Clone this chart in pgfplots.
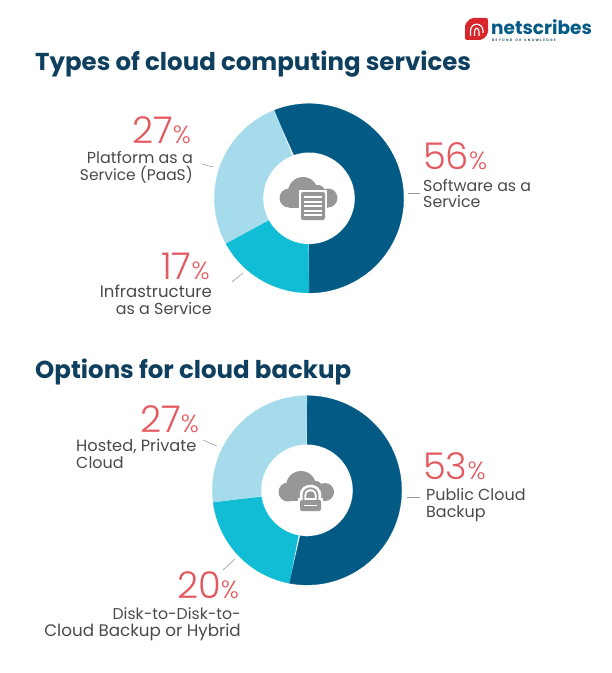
\documentclass[border=0pt]{standalone}
\usepackage{fontspec}
\usepackage{pgfplots}
\pgfplotsset{compat=1.18}
\setmainfont{Poppins}
\newfontfamily\titlefont{Poppins Bold}
\newfontfamily\lightfont{Poppins Light}
\definecolor{cdark}{HTML}{035A85}
\definecolor{clight}{HTML}{A5DBEA}
\definecolor{cteal}{HTML}{10BDD4}
\definecolor{cred}{HTML}{E4595F}
\definecolor{ctitle}{HTML}{0E3F5F}
\definecolor{ctext}{HTML}{4A4A4A}
\definecolor{cicon}{HTML}{979797}
\definecolor{cline}{HTML}{9A9A9A}
\definecolor{clogo}{HTML}{D8262C}
% ring(cx, cy, start angle, end angle, colour): one slice between radii 94.6 and 46
\newcommand{\slice}[5]{%
  \addplot[fill=#5,draw=#5,line width=0.3pt,domain=0:2,samples=161,forget plot]
   ({#1+(x<=1?94.6:46)*cos(#3+(#4-(#3))*(x<=1?x:2-x))},
    {#2-(x<=1?94.6:46)*sin(#3+(#4-(#3))*(x<=1?x:2-x))}) -- cycle;}
\newcommand{\pct}[5]{\node[anchor=#1,inner sep=0pt,text=cred] at (axis cs:#2,#3) {\lightfont\fontsize{#4}{#4}\selectfont #5\fontsize{25}{25}\selectfont\%};}
\newcommand{\lab}[5]{\node[anchor=#1,inner sep=0pt,text=ctext] at (axis cs:#2,#3) {\fontsize{#5}{#5}\selectfont #4};}
\newcommand{\docline}[1]{\fill[white] (axis cs:304,#1) rectangle (axis cs:322,#1+2.2);}
\begin{document}
\begin{tikzpicture}
\begin{axis}[
  scale only axis,width=612bp,height=673bp,
  xmin=0,xmax=612,ymin=0,ymax=673,y dir=reverse,
  hide axis,clip=false]
\path (axis cs:0,0) -- (axis cs:612,673);
% Chart 1: 56, 27, 17 per cent, counter-clockwise from 270 deg
\slice{309}{198.3}{270}{471.6}{cdark}
\slice{309}{198.3}{111.6}{208.8}{clight}
\slice{309}{198.3}{208.8}{270}{cteal}
% Chart 2: 53, 20, 27 per cent, clockwise from 90 deg
\slice{307}{490.3}{90}{-100.8}{cdark}
\slice{307}{490.3}{-100.8}{-172.8}{cteal}
\slice{307}{490.3}{-172.8}{-270}{clight}
% titles
\node[anchor=base west,inner sep=0pt,text=ctitle] at (axis cs:35,71) {\titlefont\fontsize{24.55}{24.55}\selectfont Types of cloud computing services};
\node[anchor=base west,inner sep=0pt,text=ctitle] at (axis cs:35,378) {\titlefont\fontsize{24.55}{24.55}\selectfont Options for cloud backup};
% leaders
\draw[cline,line width=0.6pt] (axis cs:408,193.3) -- (axis cs:420,193.3);
\draw[cline,line width=0.6pt] (axis cs:202,164) -- (axis cs:213,167);
\draw[cline,line width=0.6pt] (axis cs:232,282) -- (axis cs:243,273);
\draw[cline,line width=0.6pt] (axis cs:203,440) -- (axis cs:217,446);
\draw[cline,line width=0.6pt] (axis cs:407,497) -- (axis cs:420,497);
\draw[cline,line width=0.6pt] (axis cs:223,570) -- (axis cs:235,559);
% labels
\pct{base west}{132}{143}{37}{27}
\lab{base east}{193}{163}{Platform as a}{16}
\lab{base east}{193}{180}{Service (PaaS)}{15.5}
\pct{base west}{423}{169}{37}{56}
\lab{base west}{423}{191}{Software as a}{15.9}
\lab{base west}{423}{207}{Service}{15.9}
\pct{base west}{161}{279}{37}{17}
\lab{base east}{212}{297}{Infrastructure}{16.6}
\lab{base east}{212}{314}{as a Service}{16}
\pct{base west}{140}{432}{37}{27}
\lab{base west}{76}{451}{Hosted, Private}{16.3}
\lab{base west}{76}{468}{Cloud}{16}
\pct{base west}{423}{479}{37}{53}
\lab{base west}{426}{500}{Public Cloud}{16}
\lab{base west}{426}{517}{Backup}{16}
\pct{base west}{177}{598}{37}{20}
\lab{base east}{241}{619}{Disk-to-Disk-to-}{15.7}
\lab{base east}{241}{636}{Cloud Backup or Hybrid}{16.8}
% cloud icon 1
\fill[cicon] (axis cs:289,198) circle (9.5);
\fill[cicon] (axis cs:303,192) circle (15);
\fill[cicon] (axis cs:318,192) circle (7);
\fill[cicon] (axis cs:328,198) circle (9.5);
\fill[cicon] (axis cs:289,197) rectangle (axis cs:328,207.5);
\fill[white] (axis cs:299,190) rectangle (axis cs:327,222);
\fill[cicon,rounded corners=2pt] (axis cs:301,192) rectangle (axis cs:325,220);
\docline{196}
\docline{200.5}
\docline{205}
\docline{209.5}
\docline{214}
% cloud icon 2
\fill[cicon] (axis cs:288,492) circle (9.5);
\fill[cicon] (axis cs:301,486) circle (15);
\fill[cicon] (axis cs:316,487) circle (6);
\fill[cicon] (axis cs:325,492) circle (9);
\fill[cicon] (axis cs:288,491) rectangle (axis cs:325,501);
\draw[white,line width=6.5pt] (axis cs:303,503) -- (axis cs:303,495) .. controls (axis cs:303,485.7) and (axis cs:318,485.7) .. (axis cs:318,495) -- (axis cs:318,503);
\fill[white] (axis cs:298,498) rectangle (axis cs:323,513);
\draw[cicon,line width=1.8pt] (axis cs:303.5,501) -- (axis cs:303.5,495) .. controls (axis cs:303.5,486) and (axis cs:317.5,486) .. (axis cs:317.5,495) -- (axis cs:317.5,501);
\fill[cicon,rounded corners=1.5pt] (axis cs:300,500) rectangle (axis cs:321,511);
\fill[white] (axis cs:304,504.5) rectangle (axis cs:317,506.2);
% logo
\fill[clogo,rounded corners=2pt] (axis cs:465,24) -- (axis cs:465,40) -- (axis cs:482,40) -- (axis cs:488,34) -- (axis cs:488,18) -- (axis cs:471,18) -- cycle;
\draw[white,line width=1.2pt] (axis cs:470.5,36) -- (axis cs:470.5,31) .. controls (axis cs:470.5,22) and (axis cs:483,22) .. (axis cs:483,31) -- (axis cs:483,33);
\draw[white,line width=1.2pt] (axis cs:474.5,36) -- (axis cs:474.5,32) .. controls (axis cs:474.5,27) and (axis cs:479,27) .. (axis cs:479,32) -- (axis cs:479,36);
\node[anchor=base west,inner sep=0pt,text=cdark] at (axis cs:491,35) {\fontspec{Poppins Bold}\fontsize{18.6}{18.6}\selectfont netscribes};
\node[anchor=base west,inner sep=0pt,text=ctitle] at (axis cs:492,42) {\fontspec[LetterSpace=38]{Poppins SemiBold}\fontsize{3.4}{3.4}\selectfont BEYOND\hspace{3pt}OR\hspace{3pt}KNOWLEDGE};
\end{axis}
\end{tikzpicture}
\end{document}
